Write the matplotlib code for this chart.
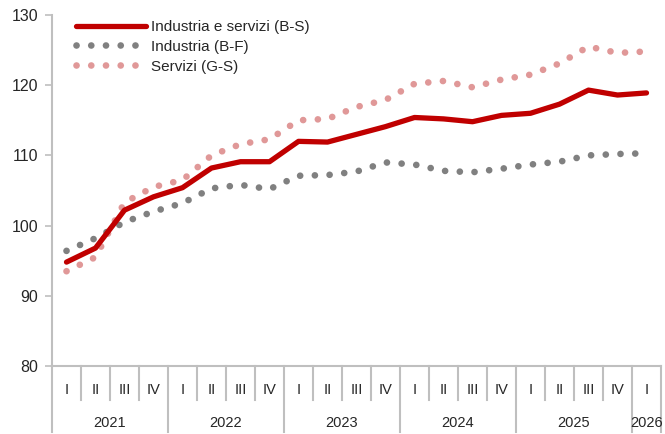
import matplotlib
matplotlib.use("Agg")
import matplotlib.pyplot as plt
import matplotlib.transforms as mtransforms

plt.rcParams['font.family'] = ['Liberation Sans', 'DejaVu Sans']

years = ["2021", "2022", "2023", "2024", "2025", "2026"]
quarter_labels = ["I", "II", "III", "IV"] * 5 + ["I"]

industria_servizi = [94.8, 96.8, 102.2, 104.1, 105.4, 108.2, 109.1, 109.1,
                     112.0, 111.9, 113.0, 114.1, 115.4, 115.2, 114.8, 115.7,
                     116.0, 117.3, 119.3, 118.6, 118.9]
industria = [96.4, 98.2, 100.5, 102.0, 103.2, 105.3, 105.8, 105.2,
             107.1, 107.2, 107.7, 109.0, 108.7, 107.8, 107.6, 108.1,
             108.7, 109.1, 110.0, 110.2, 110.3]
servizi = [93.5, 95.5, 103.3, 105.5, 106.5, 110.0, 111.6, 112.3,
           115.0, 115.2, 116.9, 117.9, 120.2, 120.6, 119.7, 120.8,
           121.5, 123.1, 125.5, 124.6, 124.8]
series_labels = ["Industria e servizi (B-S)", "Industria (B-F)", "Servizi (G-S)"]

RED = "#C00000"
GRAY = "#808080"
PINK = "#E09898"
AXC = "#BFBFBF"
TXT = "#262626"

fig = plt.figure(figsize=(6.65, 4.34), dpi=100)
ax = fig.add_axes([52/665, 1-366/434, 609/665, 351/434])

x = list(range(len(industria_servizi)))
dot = (0, (0.01, 2.2))
l2, = ax.plot(x, industria, color=GRAY, lw=4.8, linestyle=dot,
              dash_capstyle='round')
l3, = ax.plot(x, servizi, color=PINK, lw=4.8, linestyle=dot,
              dash_capstyle='round')
l1, = ax.plot(x, industria_servizi, color=RED, lw=3.8,
              solid_capstyle='round', solid_joinstyle='round')

ax.set_xlim(-0.5, len(x) - 0.5)
ax.set_ylim(80, 130)
ax.set_yticks([80, 90, 100, 110, 120, 130])
ax.tick_params(axis='y', length=5, width=1.2, color=AXC, labelsize=11.5,
               labelcolor=TXT, pad=5)
ax.set_xticks([])
for s in ["top", "right"]:
    ax.spines[s].set_visible(False)
for s in ["left", "bottom"]:
    ax.spines[s].set_color(AXC)
    ax.spines[s].set_linewidth(1.5)

# two-level category axis
trans = mtransforms.blended_transform_factory(ax.transData, ax.transAxes)
h_ax = 351.0
for k in range(len(x) + 1):
    pos = k - 0.5
    is_year = (k % 4 == 0) or k == len(x)
    y1 = -66/h_ax if is_year else -34/h_ax
    ax.plot([pos, pos], [0, y1], transform=trans, color=AXC, lw=1.5,
            clip_on=False)
for k, q in enumerate(quarter_labels):
    ax.text(k, -24/h_ax, q, transform=trans, ha='center', va='center',
            fontsize=10.5, color=TXT)
for i, yr in enumerate(years):
    start = i * 4
    end = min(start + 4, len(x))
    ax.text((start + end - 1) / 2, -57/h_ax, yr, transform=trans,
            ha='center', va='center', fontsize=10.5, color=TXT)

leg = ax.legend([l1, l2, l3], series_labels, loc='upper left',
                bbox_to_anchor=(10/609, 1.025), frameon=False,
                handlelength=4.6, handletextpad=0.35, labelspacing=0.38,
                fontsize=11)
for t in leg.get_texts():
    t.set_color(TXT)

fig.savefig("out.png", dpi=100)
